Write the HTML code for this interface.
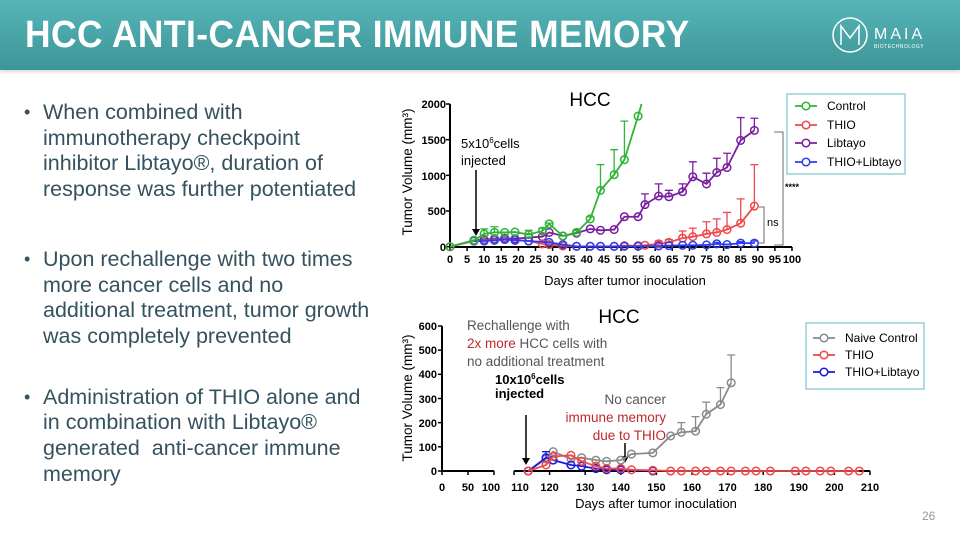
<!DOCTYPE html>
<html><head><meta charset="utf-8"><style>
body{margin:0;width:960px;height:540px;overflow:hidden;background:#fff;font-family:"Liberation Sans",sans-serif;position:relative}
.hdr{position:absolute;left:0;top:0;width:960px;height:70px;background:linear-gradient(180deg,#55b5b8,#3e9597);box-shadow:0 2px 3px rgba(0,0,0,.15)}
.hdr h1{margin:0;position:absolute;left:25px;top:14px;font-size:38px;color:#fff;font-weight:bold;letter-spacing:0.5px;transform:scaleX(0.93);transform-origin:left}
ul{position:absolute;left:20px;top:100px;margin:0;padding:0;list-style:none;color:#34525f;font-size:21.5px;line-height:25.7px;width:360px}
li{position:relative;padding-left:23px}
li:before{content:"•";position:absolute;left:4px;top:0;font-size:18px}
</style></head><body>
<div class="hdr"><h1>HCC ANTI-CANCER IMMUNE MEMORY</h1>
<svg style="position:absolute;left:830px;top:15px" width="120" height="42"><circle cx="20" cy="20" r="17" fill="none" stroke="#fff" stroke-width="1.5"/><path d="M11 30V11l9 12 9-12v19" fill="none" stroke="#fff" stroke-width="1.5"/><text x="44" y="24" fill="#fff" font-size="16" letter-spacing="3">MAIA</text><text x="44" y="33" fill="#fff" font-size="5" letter-spacing="0.5">BIOTECHNOLOGY</text></svg></div>
<ul><li style="margin-bottom:44px">When combined with immunotherapy checkpoint inhibitor Libtayo®, duration of response was further potentiated</li>
<li style="margin-bottom:35px">Upon rechallenge with two times more cancer cells and no additional treatment, tumor growth was completely prevented</li>
<li>Administration of THIO alone and in combination with Libtayo® generated&nbsp; anti-cancer immune memory</li></ul>
<div style="position:absolute;left:922px;top:509px;font-size:12px;color:#999">26</div>
<svg id="c" width="960" height="540" style="position:absolute;left:0;top:0" font-family="Liberation Sans,sans-serif">
<g font-size="11" font-weight="bold" text-anchor="end" fill="#000">
<text x="446" y="108">2000</text><text x="446" y="144">1500</text><text x="446" y="180">1000</text><text x="446" y="215">500</text><text x="446" y="251">0</text>
<text x="437" y="330">600</text><text x="437" y="354">500</text><text x="437" y="378">400</text><text x="437" y="403">300</text><text x="437" y="427">200</text><text x="437" y="451">100</text><text x="437" y="475">0</text>
</g>
<g font-size="11" font-weight="bold" text-anchor="middle" id="xl"></g>
<text x="590" y="106" font-size="19" text-anchor="middle">HCC</text>
<text x="619" y="323" font-size="19" text-anchor="middle">HCC</text>
<text transform="translate(412,172) rotate(-90)" font-size="13.5" text-anchor="middle">Tumor Volume (mm³)</text>
<text transform="translate(412,398) rotate(-90)" font-size="13.5" text-anchor="middle">Tumor Volume (mm³)</text>
<text x="625" y="285" font-size="13" text-anchor="middle">Days after tumor inoculation</text>
<text x="656" y="508" font-size="13" text-anchor="middle">Days after tumor inoculation</text>
<text x="461" y="148" font-size="13">5x10<tspan font-size="8" dy="-5">6</tspan><tspan dy="5">cells</tspan></text>
<text x="461" y="165" font-size="13">injected</text>
<text x="495" y="384" font-size="13" font-weight="bold">10x10<tspan font-size="8" dy="-5">6</tspan><tspan dy="5">cells</tspan></text>
<text x="495" y="398" font-size="13" font-weight="bold">injected</text>
<g font-size="13.5" fill="#555" font-family="Liberation Sans,sans-serif"><text x="467" y="330">Rechallenge with</text><text x="467" y="348"><tspan fill="#c0282d">2x more</tspan> HCC cells with</text><text x="467" y="366">no additional treatment</text>
<text x="666" y="404" text-anchor="end">No cancer</text><text x="666" y="422" text-anchor="end" fill="#c0282d">immune memory</text><text x="666" y="440" text-anchor="end" fill="#c0282d">due to THIO</text></g>
<text x="785" y="190" font-size="9" font-weight="bold">****</text>
<text x="767" y="226" font-size="11">ns</text>
<path d="M774 132h9v113h-9M759 207h5v36h-5" fill="none" stroke="#444" stroke-width="0.8"/>
<rect x="787" y="94" width="118" height="80" fill="#fff" stroke="#7cc8cc" stroke-width="1.2"/>
<rect x="806" y="323" width="118" height="66" fill="#fff" stroke="#7cc8cc" stroke-width="1.2"/>
<g font-size="12" id="lg"></g>
<g id="plot"></g>
</svg>
<script>
var S='http://www.w3.org/2000/svg',P=document.getElementById('plot'),XL=document.getElementById('xl');
function el(t,a,p){var e=document.createElementNS(S,t);for(var k in a)e.setAttribute(k,a[k]);(p||P).appendChild(e);return e}
function X1(d){return 450+3.42*d}function Y1(v){return 246.7-v*0.07135}
function X2(d){return d<=100?442+0.52*d:514+3.56*(d-110)}function Y2(v){return 471-v*0.2417}
el('path',{d:'M450 104V247H792',fill:'none',stroke:'#000','stroke-width':2});
for(var d=0;d<=100;d+=5){el('path',{d:'M'+X1(d)+' 247v4',stroke:'#000','stroke-width':1.5});var t=el('text',{x:X1(d),y:263},XL);t.textContent=d;}
for(var v=0;v<=2000;v+=500)el('path',{d:'M446 '+Y1(v)+'h4',stroke:'#000','stroke-width':1.5});
el('path',{d:'M442 326V471H494M514 471H870',fill:'none',stroke:'#000','stroke-width':2});
[0,50,100,110,120,130,140,150,160,170,180,190,200,210].forEach(function(d){el('path',{d:'M'+X2(d)+' 471v4',stroke:'#000','stroke-width':1.5});var t=el('text',{x:X2(d)+(d==100?-3:d==110?6:0),y:491},XL);t.textContent=d;});
for(var v=0;v<=600;v+=100)el('path',{d:'M438 '+Y2(v)+'h4',stroke:'#000','stroke-width':1.5});
function arrow(x,y1,y2){el('path',{d:'M'+x+' '+y1+'V'+(y2-6),stroke:'#000','stroke-width':1.5});el('path',{d:'M'+(x-4)+' '+(y2-7)+'L'+x+' '+y2+'L'+(x+4)+' '+(y2-7)+'z',fill:'#000'});}
arrow(476,170,236);arrow(526,415,465);arrow(625,443,463);
function series(pts,err,c,X,Y,extra){var d='';pts.forEach(function(p,i){d+=(i?'L':'M')+X(p[0])+' '+Y(p[1])});if(extra)d+='L'+X(extra[0])+' '+Y(extra[1]);
for(var k in err){var base=pts.filter(function(p){return p[0]==k})[0][1];el('path',{d:'M'+X(+k)+' '+Y(err[k])+'V'+Y(base)+'M'+(X(+k)-4)+' '+Y(err[k])+'h8',stroke:c,'stroke-width':1.3,fill:'none'});}
el('path',{d:d,stroke:c,'stroke-width':1.8,fill:'none'});pts.forEach(function(p){el('circle',{cx:X(p[0]),cy:Y(p[1]),r:3.8,fill:'none',stroke:c,'stroke-width':1.5})});}
var G='#2fb536',R='#f0484c',Pu='#7a1fa0',B='#2b3cf0',Gr='#8a8a8a',B2='#1a1ae0';
series([[0,0],[7,90],[10,100],[13,110],[16,120],[19,110],[23,130],[27,140],[29,200],[33,150],[37,190],[41,250],[44,230],[48,240],[51,420],[55,420],[57,590],[61,710],[64,700],[68,770],[71,980],[75,880],[78,1040],[81,1110],[85,1490],[89,1630]],{57:740,61:880,64:790,68:880,71:1190,75:1030,78:1240,81:1310,85:1810,89:1800},Pu,X1,Y1);
series([[0,0],[7,80],[10,90],[13,100],[16,110],[19,90],[23,80],[27,40],[29,30],[33,10],[37,5],[41,5],[44,5],[48,5],[51,15],[55,15],[57,20],[61,40],[64,60],[68,120],[71,140],[75,180],[78,200],[81,240],[85,330],[89,570]],{61:80,64:100,68:220,71:260,75:350,78:390,81:480,85:670,89:1150},R,X1,Y1);
series([[7,80],[10,80],[13,90],[16,100],[19,90],[23,80],[29,60],[33,30],[37,5],[41,5],[44,5],[48,5],[51,5],[55,5],[61,10],[64,15],[68,20],[71,20],[75,25],[78,40],[81,30],[85,50],[89,50]],{78:60,85:70,89:80},B,X1,Y1);
series([[0,0],[7,90],[10,180],[13,200],[16,200],[19,205],[23,170],[27,220],[29,320],[33,150],[37,200],[41,390],[44,790],[48,1010],[51,1220],[55,1830]],{10:250,13:280,23:230,27:260,29:330,37:230,41:420,44:1150,48:1360,51:1760},G,X1,Y1,[56,2000]);
series([[114,0],[119,50],[121,80],[126,50],[129,55],[133,45],[136,40],[140,45],[143,70],[149,75],[154,145],[157,160],[161,165],[164,235],[168,275],[171,365]],{157:200,161:225,164:285,168:345,171:480},Gr,X2,Y2);
series([[114,0],[119,55],[121,45],[126,25],[129,20],[133,10],[136,5],[140,5],[149,0]],{119:80},B2,X2,Y2);
series([[114,0],[119,25],[121,60],[126,65],[129,40],[133,20],[136,10],[140,10],[143,5],[149,3],[154,0],[157,0],[161,0],[164,0],[168,0],[171,0],[175,0],[178,0],[182,0],[189,0],[192,0],[196,0],[199,0],[204,0],[207,0]],{},R,X2,Y2);
var L=document.getElementById('lg');
function leg(x,y,c,t){el('path',{d:'M'+x+' '+y+'h22',stroke:c,'stroke-width':1.8},L);el('circle',{cx:x+11,cy:y,r:3.8,fill:'#fff',stroke:c,'stroke-width':1.5},L);var e=el('text',{x:x+32,y:y+4},L);e.textContent=t;}
leg(795,106,G,'Control');leg(795,125,R,'THIO');leg(795,143,Pu,'Libtayo');leg(795,162,B,'THIO+Libtayo');
leg(813,338,Gr,'Naive Control');leg(813,355,R,'THIO');leg(813,372,B2,'THIO+Libtayo');
</script>
</body></html>
